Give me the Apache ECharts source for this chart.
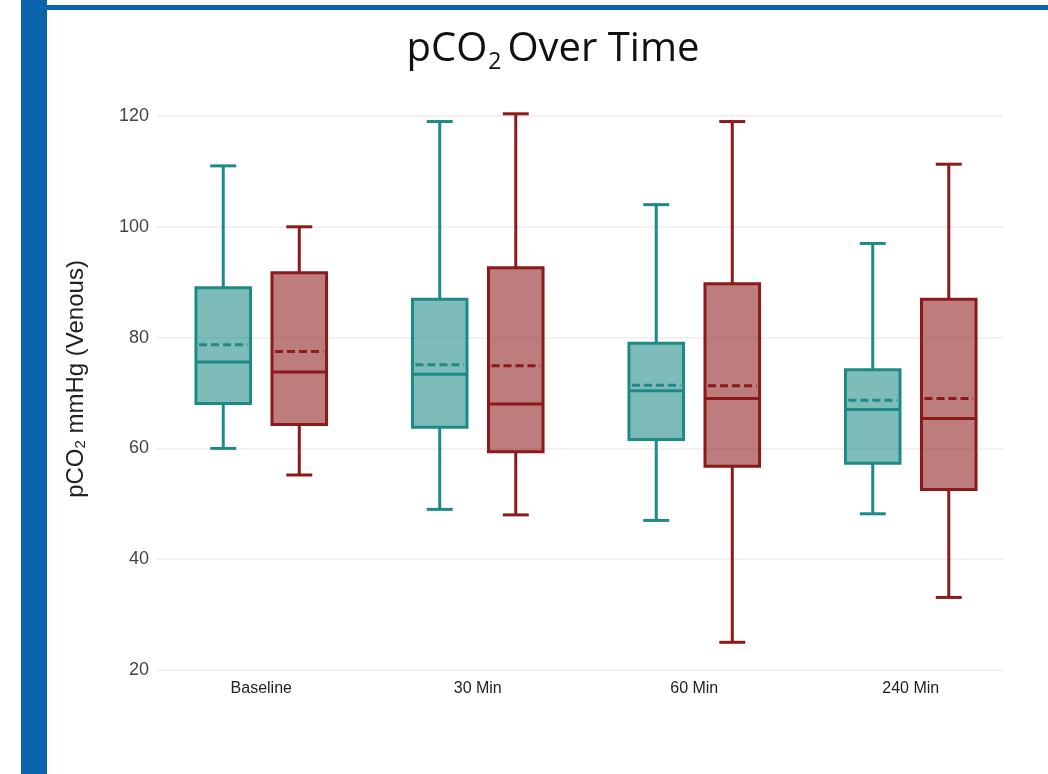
<!DOCTYPE html>
<html>
<head>
<meta charset="utf-8">
<script src="https://cdn.jsdelivr.net/npm/echarts@6/dist/echarts.min.js"></script>
<style>
html,body{margin:0;padding:0;background:#fff;}
#chart{width:1048px;height:774px;}
</style>
</head>
<body>
<div id="chart"></div>
<script>
const categories = ['Baseline', '30 Min', '60 Min', '240 Min'];
const yTicks = [20, 40, 60, 80, 100, 120];

const tealMin    = [60.0, 49.0, 47.0, 48.2];
const tealQ1     = [68.1, 63.8, 61.6, 57.3];
const tealMedian = [75.6, 73.4, 70.4, 67.0];
const tealMean   = [78.7, 75.1, 71.4, 68.7];
const tealQ3     = [89.0, 86.9, 79.0, 74.2];
const tealMax    = [111.0, 119.0, 104.0, 97.0];

const redMin     = [55.2, 48.0, 25.0, 33.1];
const redQ1      = [64.3, 59.4, 56.8, 52.6];
const redMedian  = [73.8, 68.0, 69.0, 65.4];
const redMean    = [77.5, 74.9, 71.3, 69.0];
const redQ3      = [91.7, 92.6, 89.7, 86.9];
const redMax     = [100.0, 120.4, 119.0, 111.3];

function rows(mn, q1, md, mean, q3, mx) {
  return categories.map((c, i) => [i, mn[i], q1[i], md[i], mean[i], q3[i], mx[i]]);
}

function makeRender(offsetFrac, stroke, fill) {
  return function (params, api) {
    const cat = api.value(0);
    const band = api.size([1, 0])[0];
    const cx = api.coord([cat, 0])[0] + offsetFrac * band;
    const y = v => api.coord([cat, v])[1];
    const hw = band * 0.126;
    const cw = band * 0.06;
    const yMin = y(api.value(1)), yQ1 = y(api.value(2)), yMd = y(api.value(3));
    const yMean = y(api.value(4)), yQ3 = y(api.value(5)), yMax = y(api.value(6));
    const ls = { stroke: stroke, lineWidth: 3 };
    return {
      type: 'group',
      children: [
        { type: 'line', shape: { x1: cx, y1: yMax, x2: cx, y2: yQ3 }, style: ls },
        { type: 'line', shape: { x1: cx, y1: yQ1, x2: cx, y2: yMin }, style: ls },
        { type: 'line', shape: { x1: cx - cw, y1: yMax, x2: cx + cw, y2: yMax }, style: ls },
        { type: 'line', shape: { x1: cx - cw, y1: yMin, x2: cx + cw, y2: yMin }, style: ls },
        { type: 'rect', shape: { x: cx - hw, y: yQ3, width: 2 * hw, height: yQ1 - yQ3 },
          style: { fill: fill, stroke: stroke, lineWidth: 3 } },
        { type: 'line', shape: { x1: cx - hw, y1: yMd, x2: cx + hw, y2: yMd }, style: ls },
        { type: 'line', shape: { x1: cx - hw + 3, y1: yMean, x2: cx + hw - 3, y2: yMean },
          style: { stroke: stroke, lineWidth: 3, lineDash: [8, 4] } }
      ]
    };
  };
}

const chart = echarts.init(document.getElementById('chart'));
chart.setOption({
  animation: false,
  backgroundColor: '#ffffff',
  title: {
    text: '{a|pCO}{s|2}{a|Over Time}',
    left: 548,
    top: 21,
    textAlign: 'center',
    textStyle: {
      rich: {
        a: { fontFamily: 'Open Sans', fontSize: 40, fontWeight: 'normal', color: '#111111', lineHeight: 48 },
        s: { fontFamily: 'Open Sans', fontSize: 23, fontWeight: 'normal', color: '#111111', lineHeight: 25, verticalAlign: 'bottom', padding: [0, 6, 0, 1] }
      }
    }
  },
  graphic: [
    { type: 'rect', shape: { x: 21, y: 0, width: 26, height: 774 }, style: { fill: '#0b63ac' }, z: 100 },
    { type: 'rect', shape: { x: 21, y: 5, width: 1027, height: 5 }, style: { fill: '#0b63ac' }, z: 100 },
    {
      type: 'text', x: 76, y: 379, rotation: Math.PI / 2, z: 100,
      style: {
        text: 'pCO{s|2} mmHg (Venous)',
        align: 'center', verticalAlign: 'middle',
        font: '24px "Liberation Sans"', fill: '#222222',
        rich: { s: { fontFamily: 'Liberation Sans', fontSize: 15, fill: '#222222', verticalAlign: 'bottom', lineHeight: 16 } }
      }
    }
  ],
  grid: [
    { left: 153, right: 29, top: 116, bottom: 104 },
    { left: 157, right: 45, top: 116, bottom: 104 }
  ],
  xAxis: [
    {
      type: 'category', data: categories, gridIndex: 0,
      axisLine: { show: false }, axisTick: { show: false },
      axisLabel: { margin: 11, fontSize: 16, color: '#222222', fontFamily: 'Liberation Sans' }
    },
    { type: 'value', gridIndex: 1, show: false, min: 0, max: 1 }
  ],
  yAxis: [
    {
      type: 'value', gridIndex: 0, min: yTicks[0], max: yTicks[yTicks.length - 1], interval: 20,
      splitLine: { show: false }, axisLine: { show: false }, axisTick: { show: false },
      axisLabel: { margin: 4, fontSize: 18, color: '#444444', fontFamily: 'Liberation Sans' }
    },
    {
      type: 'value', gridIndex: 1, min: yTicks[0], max: yTicks[yTicks.length - 1], interval: 20,
      axisLabel: { show: false }, axisLine: { show: false }, axisTick: { show: false },
      splitLine: { show: true, lineStyle: { color: '#ededed', width: 1.5 } }
    }
  ],
  series: [
    {
      name: 'Group A', type: 'custom', xAxisIndex: 0, yAxisIndex: 0, z: 5,
      renderItem: makeRender(-0.1756, '#1d8a86', 'rgba(29,138,134,0.57)'),
      encode: { x: 0, y: [1, 2, 3, 4, 5, 6] },
      data: rows(tealMin, tealQ1, tealMedian, tealMean, tealQ3, tealMax)
    },
    {
      name: 'Group B', type: 'custom', xAxisIndex: 0, yAxisIndex: 0, z: 5,
      renderItem: makeRender(0.1756, '#8c1a1a', 'rgba(140,26,26,0.57)'),
      encode: { x: 0, y: [1, 2, 3, 4, 5, 6] },
      data: rows(redMin, redQ1, redMedian, redMean, redQ3, redMax)
    }
  ]
});
</script>
</body>
</html>
